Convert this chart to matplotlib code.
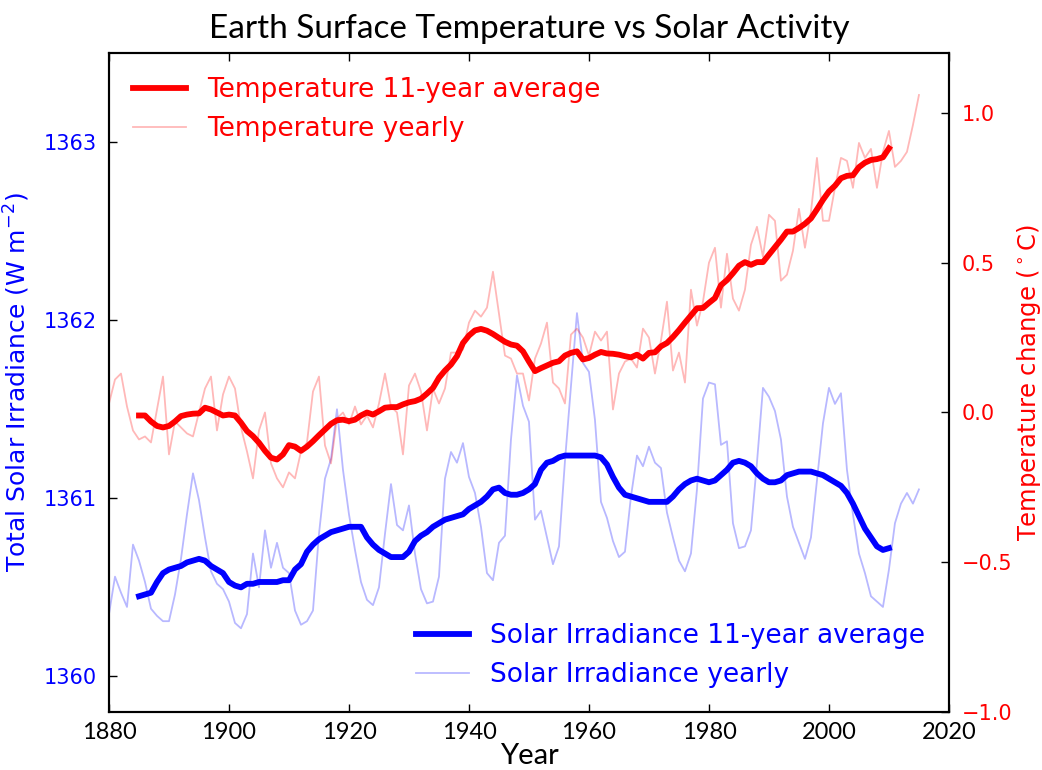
# earth surface temperature vs solar activity

import numpy as np
import matplotlib
matplotlib.use("Agg")
import matplotlib.pyplot as plt
from matplotlib.ticker import ScalarFormatter

# years
years = np.arange(1880, 2016)
years_avg = np.arange(1885, 2011)

# temperature change (C), yearly, 1880-2015
temp_yearly = [
    0.03, 0.11, 0.13, 0.02, -0.06, -0.09, -0.08, -0.10, 0.01, 0.12,
    -0.14, -0.03, -0.05, -0.07, -0.08, 0.00, 0.08, 0.12, -0.06, 0.06,
    0.12, 0.08, -0.05, -0.13, -0.22, -0.06, 0.00, -0.17, -0.22, -0.25,
    -0.20, -0.22, -0.13, -0.10, 0.07, 0.12, -0.11, -0.17, -0.02, 0.00,
    -0.04, 0.02, -0.04, -0.01, -0.05, 0.03, 0.13, 0.02, 0.00, -0.14,
    0.09, 0.13, 0.07, -0.06, 0.08, 0.03, 0.08, 0.20, 0.20, 0.21,
    0.30, 0.34, 0.32, 0.35, 0.47, 0.33, 0.19, 0.18, 0.13, 0.13,
    0.04, 0.18, 0.23, 0.30, 0.10, 0.08, 0.03, 0.26, 0.28, 0.25,
    0.19, 0.27, 0.24, 0.27, 0.01, 0.13, 0.17, 0.18, 0.15, 0.28,
    0.25, 0.13, 0.24, 0.37, 0.14, 0.20, 0.10, 0.41, 0.29, 0.37,
    0.50, 0.55, 0.35, 0.53, 0.38, 0.34, 0.41, 0.56, 0.62, 0.52,
    0.66, 0.64, 0.44, 0.46, 0.54, 0.68, 0.55, 0.67, 0.85, 0.64,
    0.64, 0.75, 0.85, 0.84, 0.75, 0.90, 0.85, 0.88, 0.75, 0.87,
    0.94, 0.82, 0.84, 0.87, 0.96, 1.06,
]

# temperature 11-year average, 1885-2010
temp_avg = [
    -0.01, -0.01, -0.03, -0.045, -0.05,
    -0.045, -0.03, -0.012, -0.007, -0.004, -0.003, 0.016, 0.01, 0.0, -0.01,
    -0.007, -0.01, -0.034, -0.062, -0.079, -0.101, -0.128, -0.151, -0.157, -0.14,
    -0.109, -0.114, -0.128, -0.114, -0.096, -0.076, -0.057, -0.038, -0.026, -0.024,
    -0.029, -0.024, -0.01, 0.0, -0.007, 0.004, 0.016, 0.018, 0.018, 0.027,
    0.034, 0.038, 0.046, 0.063, 0.082, 0.116, 0.14, 0.16, 0.188, 0.232,
    0.257, 0.274, 0.279, 0.273, 0.262, 0.249, 0.236, 0.227, 0.223, 0.204,
    0.17, 0.138, 0.148, 0.157, 0.166, 0.171, 0.19, 0.199, 0.204, 0.177,
    0.182, 0.193, 0.202, 0.197, 0.196, 0.193, 0.188, 0.184, 0.193, 0.18,
    0.199, 0.201, 0.221, 0.232, 0.252, 0.275, 0.30, 0.324, 0.348, 0.349,
    0.366, 0.382, 0.425, 0.442, 0.465, 0.49, 0.502, 0.493, 0.502, 0.502,
    0.527, 0.552, 0.577, 0.604, 0.604, 0.616, 0.63, 0.648, 0.678, 0.71,
    0.738, 0.757, 0.782, 0.79, 0.792, 0.819, 0.834, 0.843, 0.846, 0.852,
    0.882,
]

# total solar irradiance (W m-2), yearly, 1880-2015
solar_yearly = [
    1360.35, 1360.56, 1360.47, 1360.39, 1360.74, 1360.65, 1360.53, 1360.38, 1360.34, 1360.31,
    1360.31, 1360.46, 1360.66, 1360.91, 1361.14, 1360.99, 1360.78, 1360.59, 1360.52, 1360.49,
    1360.42, 1360.30, 1360.27, 1360.35, 1360.69, 1360.50, 1360.82, 1360.61, 1360.75, 1360.61,
    1360.58, 1360.37, 1360.29, 1360.31, 1360.37, 1360.80, 1361.11, 1361.22, 1361.50, 1361.16,
    1360.91, 1360.71, 1360.53, 1360.43, 1360.40, 1360.50, 1360.80, 1361.08, 1360.85, 1360.82,
    1360.96, 1360.69, 1360.49, 1360.41, 1360.42, 1360.56, 1361.11, 1361.26, 1361.20, 1361.31,
    1361.12, 1361.03, 1360.84, 1360.58, 1360.54, 1360.75, 1360.79, 1361.33, 1361.69, 1361.52,
    1361.43, 1360.88, 1360.93, 1360.78, 1360.63, 1360.73, 1361.21, 1361.63, 1362.04, 1361.76,
    1361.71, 1361.44, 1360.98, 1360.89, 1360.76, 1360.67, 1360.70, 1361.01, 1361.24, 1361.18,
    1361.29, 1361.20, 1361.17, 1360.92, 1360.78, 1360.65, 1360.59, 1360.69, 1361.05, 1361.56,
    1361.65, 1361.64, 1361.30, 1361.32, 1360.86, 1360.72, 1360.73, 1360.82, 1361.20, 1361.62,
    1361.57, 1361.49, 1361.33, 1361.01, 1360.84, 1360.75, 1360.66, 1360.78, 1361.10, 1361.42,
    1361.62, 1361.53, 1361.59, 1361.16, 1360.91, 1360.69, 1360.58, 1360.45, 1360.42, 1360.39,
    1360.60, 1360.86, 1360.97, 1361.03, 1360.97, 1361.05,
]

# total solar irradiance 11-year average, 1885-2010
solar_avg = [
    1360.45, 1360.46, 1360.47, 1360.53, 1360.58,
    1360.60, 1360.61, 1360.62, 1360.64, 1360.65, 1360.66, 1360.65, 1360.62, 1360.60, 1360.58,
    1360.53, 1360.51, 1360.50, 1360.52, 1360.52, 1360.53, 1360.53, 1360.53, 1360.53, 1360.54,
    1360.54, 1360.60, 1360.63, 1360.70, 1360.74, 1360.77, 1360.79, 1360.81, 1360.82, 1360.83,
    1360.84, 1360.84, 1360.84, 1360.78, 1360.74, 1360.71, 1360.69, 1360.67, 1360.67, 1360.67,
    1360.70, 1360.76, 1360.79, 1360.81, 1360.84, 1360.86, 1360.88, 1360.89, 1360.90, 1360.91,
    1360.94, 1360.96, 1360.98, 1361.01, 1361.05, 1361.06, 1361.03, 1361.02, 1361.02, 1361.03,
    1361.05, 1361.08, 1361.16, 1361.20, 1361.21, 1361.23, 1361.24, 1361.24, 1361.24, 1361.24,
    1361.24, 1361.24, 1361.23, 1361.19, 1361.12, 1361.06, 1361.02, 1361.01, 1361.00, 1360.99,
    1360.98, 1360.98, 1360.98, 1360.98, 1361.01, 1361.05, 1361.08, 1361.10, 1361.11, 1361.10,
    1361.09, 1361.10, 1361.13, 1361.16, 1361.20, 1361.21, 1361.20, 1361.18, 1361.14, 1361.11,
    1361.09, 1361.09, 1361.10, 1361.13, 1361.14, 1361.15, 1361.15, 1361.15, 1361.14, 1361.13,
    1361.11, 1361.09, 1361.07, 1361.03, 1360.97, 1360.90, 1360.83, 1360.78, 1360.73, 1360.71,
    1360.72,
]

x_ticks = [1880, 1900, 1920, 1940, 1960, 1980, 2000, 2020]
solar_ticks = [1360, 1361, 1362, 1363]
temp_ticks = [-1.0, -0.5, 0.0, 0.5, 1.0]

plt.rcParams["font.family"] = ["DejaVu Sans"]
plt.rcParams["axes.linewidth"] = 1.5

fig = plt.figure(figsize=(10.42, 7.70), dpi=100)
ax1 = fig.add_axes([0.1046, 0.0753, 0.8061, 0.8558])
ax2 = ax1.twinx()

# solar irradiance on the left axis
ax1.plot(years_avg, solar_avg, color="blue", lw=4.2, label="Solar Irradiance 11-year average")
ax1.plot(years, solar_yearly, color="blue", lw=1.3, alpha=0.28, label="Solar Irradiance yearly")

# temperature on the right axis
ax2.plot(years_avg, temp_avg, color="red", lw=4.2, label="Temperature 11-year average")
ax2.plot(years, temp_yearly, color="red", lw=1.3, alpha=0.28, label="Temperature yearly")

ax1.set_xlim(1880, 2020)
ax1.set_ylim(1359.8, 1363.5)
ax2.set_ylim(-1.0, 1.2)

ax1.set_xticks(x_ticks)
ax1.set_yticks(solar_ticks)
ax2.set_yticks(temp_ticks)
ax1.yaxis.set_major_formatter(ScalarFormatter(useOffset=False))

for lab in ax1.get_xticklabels():
    lab.set_family("Lato")
    lab.set_fontsize(17)

ax1.tick_params(axis="x", direction="in", length=6, width=1, top=True, pad=7)
ax1.tick_params(axis="y", direction="in", length=6, width=1, right=False,
                labelcolor="blue", labelsize=15, pad=9)
ax2.tick_params(axis="y", direction="in", length=6, width=1,
                labelcolor="red", labelsize=15, pad=9)

ax1.set_xlabel("Year", family="Lato", fontsize=21, labelpad=0)
ax1.set_ylabel(r"Total Solar Irradiance (W m$^{-2}$)", color="blue", fontsize=18, labelpad=8)
ax2.set_ylabel(r"Temperature change ($^\circ$C)", color="red", fontsize=17.5, labelpad=2)
ax1.set_title("Earth Surface Temperature vs Solar Activity", family="Lato", fontsize=24, pad=11)

ax2.legend(loc="upper left", frameon=False, fontsize=19, labelcolor="red")
ax1.legend(loc="lower right", frameon=False, fontsize=19, labelcolor="blue")

fig.savefig("out.png", dpi=100)
